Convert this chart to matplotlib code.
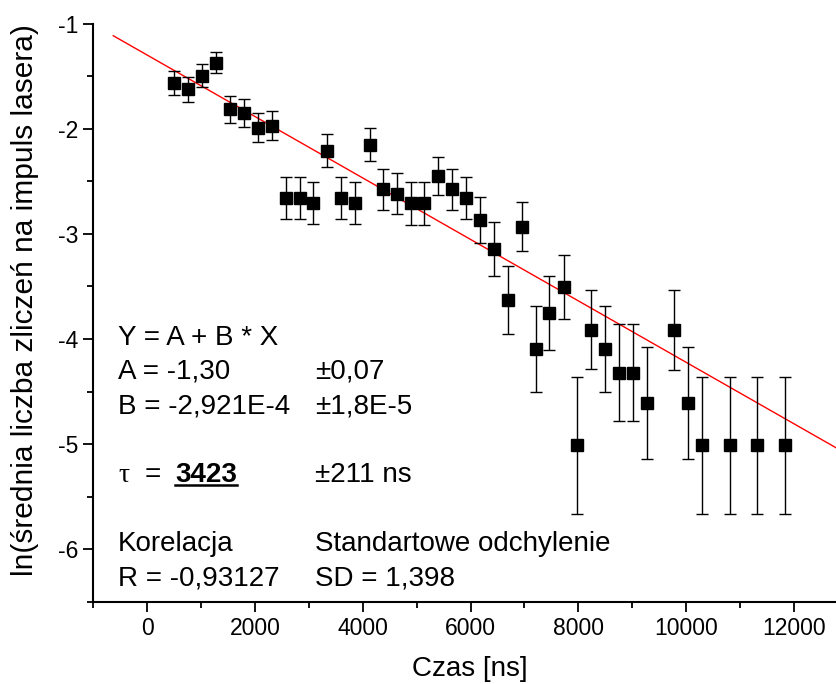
import numpy as np
import matplotlib
matplotlib.use("Agg")
import matplotlib.pyplot as plt

# czas [ns], ln(srednia liczba zliczen), niepewnosc
czas = [500, 760, 1020, 1280, 1540, 1800, 2050, 2315, 2575, 2830, 3085, 3330,
        3600, 3865, 4125, 4380, 4640, 4895, 5145, 5405, 5665, 5920, 6180, 6440,
        6690, 6950, 7210, 7465, 7725, 7980, 8240, 8500, 8760, 9015, 9275, 9780,
        10035, 10295, 10810, 11320, 11835]
ln_n = [-1.565, -1.626, -1.498, -1.374, -1.817, -1.852, -1.99, -1.97, -2.66, -2.66,
        -2.708, -2.208, -2.66, -2.71, -2.151, -2.574, -2.619, -2.711, -2.711, -2.447,
        -2.574, -2.66, -2.87, -3.141, -3.628, -2.931, -4.093, -3.755, -3.507, -5.01,
        -3.911, -4.093, -4.319, -4.319, -4.606, -3.915, -4.606, -5.01, -5.01, -5.01,
        -5.01]
err = [0.113, 0.12, 0.11, 0.10, 0.13, 0.135, 0.14, 0.14, 0.2, 0.2,
       0.2, 0.16, 0.2, 0.2, 0.157, 0.195, 0.196, 0.2, 0.2, 0.18,
       0.195, 0.2, 0.22, 0.256, 0.326, 0.23, 0.41, 0.35, 0.305, 0.65,
       0.377, 0.41, 0.46, 0.46, 0.533, 0.38, 0.533, 0.65, 0.65, 0.65,
       0.65]

# dopasowanie liniowe Y = A + B * X
A = -1.30
B = -2.921e-4
fit_x = np.array([-630, 12800])

xticks = [0, 2000, 4000, 6000, 8000, 10000, 12000]
yticks = [-1, -2, -3, -4, -5, -6]

plt.rcParams['font.family'] = ['Liberation Sans', 'DejaVu Sans']

fig = plt.figure(figsize=(8.37, 6.84), dpi=100)
ax = fig.add_axes([0.1115, 0.1199, 0.8885, 0.8457])

ax.plot(fit_x, A + B * fit_x, color='red', linewidth=1.0, zorder=1)
ax.errorbar(czas, ln_n, yerr=err, fmt='s', color='black', markersize=8.3,
            ecolor='black', elinewidth=1.0, capsize=4.2, capthick=1.0, zorder=2)

ax.set_xlim(-1000, 12800)
ax.set_ylim(-6.5, -1)
ax.set_xticks(xticks)
ax.set_xticks(np.arange(-1000, 13000, 1000), minor=True)
ax.set_yticks(yticks)
ax.set_yticks(np.arange(-6.5, -0.9, 0.5), minor=True)
ax.set_xticklabels([str(t) for t in xticks])
ax.set_yticklabels([str(t) for t in yticks])

for s in ['top', 'right']:
    ax.spines[s].set_visible(False)
for s in ['left', 'bottom']:
    ax.spines[s].set_linewidth(1.5)
ax.tick_params(which='major', direction='out', length=7, width=1.3, labelsize=16.5, pad=4)
ax.tick_params(which='minor', direction='out', length=4, width=1.3)

ax.set_xlabel('Czas [ns]', fontsize=20)
ax.set_ylabel('ln(średnia liczba zliczeń na impuls lasera)', fontsize=21.5)
ax.xaxis.set_label_coords(0.5065, -0.093)
ax.yaxis.set_label_coords(-0.073, 0.522)

fs = 20
x1, x2 = -540, 3110
ax.text(x1, -4.055, 'Y = A + B * X', fontsize=fs)
ax.text(x1, -4.379, 'A = -1,30', fontsize=fs)
ax.text(x2, -4.379, '±0,07', fontsize=fs)
ax.text(x1, -4.708, 'B = -2,921E-4', fontsize=fs)
ax.text(x2, -4.708, '±1,8E-5', fontsize=fs)
ax.text(x1, -5.36, 'τ', fontsize=fs, family=['Liberation Serif', 'DejaVu Serif'])
ax.text(-40, -5.36, '=', fontsize=fs)
tau = ax.text(520, -5.36, '3423', fontsize=fs, fontweight='bold')
ax.text(x2, -5.36, '±211 ns', fontsize=fs)
ax.text(x1, -6.012, 'Korelacja', fontsize=fs)
ax.text(x2, -6.012, 'Standartowe odchylenie', fontsize=fs)
ax.text(x1, -6.347, 'R = -0,93127', fontsize=fs)
ax.text(x2, -6.347, 'SD = 1,398', fontsize=fs)

# podkreslenie wartosci tau
fig.canvas.draw()
bb = tau.get_window_extent().transformed(fig.transFigure.inverted())
fig.add_artist(plt.Line2D([bb.x0, bb.x1], [bb.y0 + 0.004, bb.y0 + 0.004],
                          transform=fig.transFigure, color='black', linewidth=1.8))

fig.savefig('out.png', dpi=100)
